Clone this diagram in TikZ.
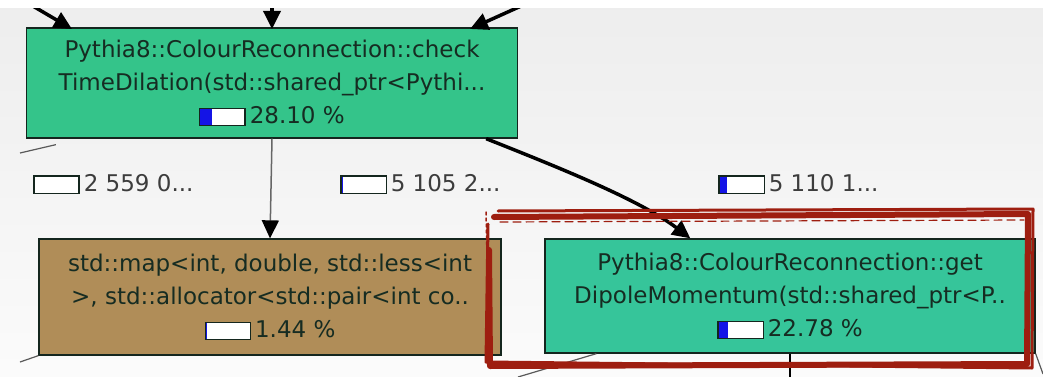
\documentclass[tikz,border=0pt]{standalone}
\usepackage{fontspec}
\setmainfont{DejaVu Sans}
\usetikzlibrary{arrows.meta,calc}
\definecolor{grn}{RGB}{52,196,138}
\definecolor{grnb}{RGB}{54,197,154}
\definecolor{tanfill}{RGB}{176,141,88}
\definecolor{txt}{RGB}{22,44,34}
\definecolor{lbltxt}{RGB}{60,60,60}
\definecolor{bord}{RGB}{20,38,30}
\definecolor{redpen}{RGB}{158,30,16}
\definecolor{barblue}{RGB}{20,20,230}
\newcommand{\costbar}[1]{{\setlength{\fboxsep}{0pt}\setlength{\fboxrule}{1.3pt}\fcolorbox{bord}{white}{\makebox[44pt][l]{\textcolor{barblue}{\rule[-1.5pt]{#1}{16pt}}}}\hspace{4pt}}}
\tikzset{
  fn/.style={draw=bord, line width=1.3pt, rectangle, align=center, text=txt,
    font=\fontsize{23}{33}\selectfont, inner sep=0pt},
  lbl/.style={anchor=west, text=lbltxt, font=\fontsize{23}{26}\selectfont, inner sep=0pt},
  heavy/.style={line width=3.5pt, black, -{Triangle[length=18pt,width=17pt]}},
  light/.style={line width=1.5pt, gray!80!black, -{Triangle[length=18pt,width=17pt,color=black]}},
  thin/.style={line width=1.2pt, gray!70!black},
  pen/.style={redpen, line join=round, line cap=round}
}
\begin{document}
\begin{tikzpicture}[x=1pt,y=-1pt]
\useasboundingbox (0,0) rectangle (1043,377);
\shade[top color=gray!14, bottom color=gray!3] (0,0) rectangle (1043,377);
% coordinates for free ends
\coordinate (a1) at (26,2);
\coordinate (a1e) at (72,29);
\coordinate (a2) at (272,2);
\coordinate (a2e) at (272,29);
\coordinate (a3) at (530,2);
\coordinate (a3e) at (470,29);
\coordinate (l1) at (20,153);
\coordinate (l2) at (20,362);
\coordinate (l3) at (518,377);
\coordinate (l4) at (790,377);
\coordinate (l5) at (1043,374);
% nodes
\node[fn, fill=grn, minimum width=491, minimum height=110] (check) at (272,83)
  {Pythia8::ColourReconnection::check\\TimeDilation(std::shared\_ptr<Pythi...\\\costbar{12pt}28.10 \%};
\node[fn, fill=tanfill, minimum width=462, minimum height=116] (map) at (270,297)
  {std::map<int, double, std::less<int\\>, std::allocator<std::pair<int co..\\\costbar{1.5pt}1.44 \%};
\node[fn, fill=grnb, minimum width=490, minimum height=114] (dip) at (790,296)
  {Pythia8::ColourReconnection::get\\DipoleMomentum(std::shared\_ptr<P..\\\costbar{9pt}22.78 \%};
% incoming arrows
\draw[heavy] (a1) -- (a1e);
\draw[heavy] (a2) -- (a2e);
\draw[heavy] (a3) -- (a3e);
\fill[white] (0,0) rectangle (1043,8);
% edges
\draw[light] (check.south) -- (map.north);
\draw[heavy] ($(check.south east)+(-32,0)$) .. controls (560,168) and (640,200) .. ($(dip.north west)+(146,0)$);
\draw[thin] ($(check.south west)+(30,6)$) -- (l1);
\draw[thin] (map.south west) -- (l2);
\draw[thin] ($(dip.south west)+(52,0)$) -- (l3);
\draw[line width=1.5pt, black] (dip.south) -- (l4);
\draw[thin] (dip.south east) -- (l5);
% edge labels
\node[lbl] (e1) at (33,184) {\costbar{1pt}2 559 0...};
\node[lbl] (e2) at (340,184) {\costbar{1pt}5 105 2...};
\node[lbl] (e3) at (718,184) {\costbar{7pt}5 110 1...};
% red hand-drawn frame
\draw[pen, line width=6pt] (494,217) -- (1028,214) -- (1027,364) -- (490,366) -- (489,250);
\draw[pen, line width=3pt] (498,211) -- (1033,209) -- (1032,368) -- (486,362) -- (488,224);
\draw[pen, line width=1.5pt, dashed] (486,212) -- (488,300);
\draw[pen, line width=1.2pt, dash pattern=on 8pt off 5pt] (500,222) -- (1024,220);
\end{tikzpicture}
\end{document}
